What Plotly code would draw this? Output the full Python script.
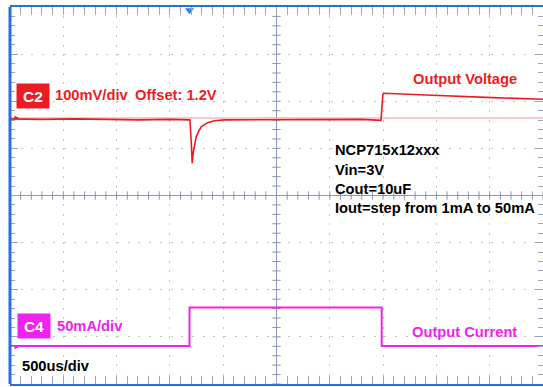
import numpy as np
import plotly.graph_objects as go

# --- scope settings -------------------------------------------------------
US_PER_DIV = 500          # time base
C2_V_PER_DIV = 0.1        # 100 mV/div
C2_OFFSET = 1.2           # V
C4_MA_PER_DIV = 50        # 50 mA/div
C2_REF_DIV = 1.645        # ground marker position (div above centre)
C4_REF_DIV = -3.215
TRIG_US = -816            # trigger marker (time from screen centre)

# --- C2 : output voltage (us from screen centre, V) ------------------------
c2_t = [-2500, -2200, -1900, -1600, -1300, -1000, -820, -812, -800, -791,
        -780, -770, -753, -730, -706, -647, -582, -488, -400, -100, 200,
        500, 800, 980, 991, 998, 1006, 1050, 1404, 2026, 2500]
c2_v = [1.198, 1.197, 1.198, 1.197, 1.196, 1.197, 1.196, 1.196, 1.150, 1.104,
        1.128, 1.143, 1.160, 1.172, 1.181, 1.190, 1.194, 1.196, 1.196, 1.197, 1.196,
        1.196, 1.197, 1.195, 1.230, 1.250, 1.2525, 1.252, 1.2488, 1.2431, 1.2397]

# --- C4 : output current (us, mA) ------------------------------------------
c4_t = [-2500, -816, 987, 2500]
c4_ma = [1, 42, 1, 1]

RED = "#ec1c24"
MAG = "#f022f0"
BLUE = "#2a6fd8"
TICK = "#9aa3bf"
AXC = "#8c95b3"
FS = 14.7

W, H = 543, 387
ML, MR, MT, MB = 10, 0, 7, 3


def px(x, y):
    """pixel position -> paper coordinates"""
    return (x - ML) / (W - ML - MR), (H - MB - y) / (H - MT - MB)


def ch_range(ref, ref_div, per_div):
    return [ref - (4 + ref_div) * per_div, ref + (4 - ref_div) * per_div]


fig = go.Figure()

# centre cross-hair tick marks
fig.add_trace(go.Scatter(
    x=np.arange(-2500, 2501, US_PER_DIV / 5), y=np.zeros(51), mode="markers",
    marker=dict(symbol="line-ns", size=6, line=dict(color=AXC, width=1)),
    hoverinfo="skip", showlegend=False))
fig.add_trace(go.Scatter(
    x=np.zeros(41), y=np.arange(-4, 4.01, 0.2), mode="markers",
    marker=dict(symbol="line-ew", size=6, line=dict(color=AXC, width=1)),
    hoverinfo="skip", showlegend=False))

# C2 reference and trace
fig.add_trace(go.Scatter(x=[-2500, 2500], y=[C2_OFFSET, C2_OFFSET], yaxis="y2",
                         mode="lines", line=dict(color="#f7b9bb", width=1.5),
                         hoverinfo="skip", showlegend=False))
fig.add_trace(go.Scatter(x=c2_t, y=c2_v, yaxis="y2", mode="lines",
                         line=dict(color=RED, width=1.6), showlegend=False))
# C4 trace
fig.add_trace(go.Scatter(x=c4_t, y=c4_ma, yaxis="y3", mode="lines",
                         line=dict(color=MAG, width=2, shape="hv"), showlegend=False))

# trigger marker and channel ground markers
fig.add_trace(go.Scatter(x=[TRIG_US], y=[3.93], mode="markers", cliponaxis=False,
                         marker=dict(symbol="triangle-down", size=8, color="#2a86e6"),
                         showlegend=False))
for num, ydiv, col in [("2", C2_REF_DIV, RED), ("4", C4_REF_DIV, MAG)]:
    fig.add_trace(go.Scatter(
        x=[-2530], y=[ydiv], mode="markers+text", text=[num], cliponaxis=False,
        textfont=dict(size=7, color="white", family="Liberation Sans"),
        marker=dict(symbol="circle", size=10, color=col,
                    line=dict(color="#b9a98a", width=1)),
        showlegend=False))

ax_common = dict(showticklabels=False, fixedrange=True)
fig.update_layout(
    width=W, height=H, margin=dict(l=ML, r=MR, t=MT, b=MB),
    paper_bgcolor="white", plot_bgcolor="white", hovermode=False,
    font=dict(family="Liberation Sans, Arial, sans-serif"),
    xaxis=dict(range=[-2500, 2500], dtick=US_PER_DIV, tick0=0,
               showgrid=True, gridcolor="#c4c4c4", griddash="2px,7.4px", gridwidth=1,
               zeroline=True, zerolinecolor=AXC, zerolinewidth=1,
               showline=True, linecolor=BLUE, linewidth=2, mirror="allticks",
               ticks="inside", ticklen=8, tickcolor=TICK,
               minor=dict(dtick=US_PER_DIV / 5, ticks="inside", ticklen=5,
                          tickcolor=TICK, showgrid=False),
               **ax_common),
    yaxis=dict(range=[-4, 4], dtick=1, tick0=0,
               showgrid=True, gridcolor="#c4c4c4", griddash="2px,8.7px", gridwidth=1,
               zeroline=True, zerolinecolor=AXC, zerolinewidth=1,
               showline=False, mirror="ticks",
               ticks="inside", ticklen=8, tickcolor=TICK,
               minor=dict(dtick=0.2, ticks="inside", ticklen=5,
                          tickcolor=TICK, showgrid=False),
               **ax_common),
    yaxis2=dict(range=ch_range(C2_OFFSET, C2_REF_DIV, C2_V_PER_DIV), overlaying="y",
                visible=False, fixedrange=True),
    yaxis3=dict(range=ch_range(0, C4_REF_DIV, C4_MA_PER_DIV), overlaying="y",
                visible=False, fixedrange=True),
    shapes=[dict(type="line", xref="paper", yref="paper", x0=0, x1=0, y0=0, y1=1,
                 line=dict(color=BLUE, width=3))],
)

# channel badges
for label, (cx, cy), col in [("C2", (33.3, 95.7), RED), ("C4", (33.8, 325.8), MAG)]:
    x, y = px(cx, cy)
    fig.add_annotation(x=x, y=y, xref="paper", yref="paper", text="<b>%s</b>" % label,
                       showarrow=False, bgcolor=col, width=30, height=22,
                       xanchor="center", yanchor="middle",
                       font=dict(size=15.5, color="white"))

labels = [
    ("<b>100mV/div</b>", 52.5, 95.5, RED),
    ("<b>Offset: 1.2V</b>", 133, 95.5, RED),
    ("<b>Output Voltage</b>", 410.5, 79, RED),
    ("<b>NCP715x12xxx</b>", 333, 149.5, "black"),
    ("<b>Vin=3V</b>", 333, 169.5, "black"),
    ("<b>Cout=10uF</b>", 333, 189, "black"),
    ("<b>Iout=step from 1mA to 50mA</b>", 333, 207.5, "black"),
    ("<b>50mA/div</b>", 55, 325.7, MAG),
    ("<b>Output Current</b>", 410, 331.5, MAG),
    ("<b>500us/div</b>", 20, 366, "black"),
]
for text, lx, ly, col in labels:
    x, y = px(lx, ly)
    fig.add_annotation(x=x, y=y, xref="paper", yref="paper", text=text,
                       showarrow=False, xanchor="left", yanchor="middle",
                       font=dict(size=FS, color=col))

# small arrows after the ground markers
for (ay, col) in [(118, RED), (347, MAG)]:
    x, y = px(19, ay)
    fig.add_annotation(x=x, y=y, xref="paper", yref="paper", text="",
                       showarrow=True, ax=-6, ay=0, arrowhead=2, arrowsize=0.6,
                       arrowwidth=1.5, arrowcolor=col)

fig.write_html("out.html", config={"displayModeBar": False},
               post_script="document.body.style.margin='0';")
